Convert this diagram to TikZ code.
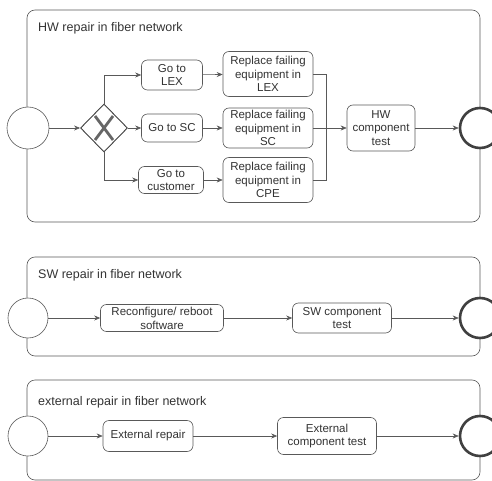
\documentclass[tikz,border=0pt]{standalone}
\usepackage{fontspec}
\setmainfont{Liberation Sans}
\usetikzlibrary{shapes.geometric,arrows.meta}

\tikzset{
  line/.style={draw=black!65, line width=0.6pt},
  pool/.style={line, rounded corners=8pt},
  task/.style={line, rounded corners=6pt, fill=white, align=center,
    font=\fontsize{11.5}{13.8}\selectfont, text=black!80, inner sep=1pt},
  startev/.style={line, circle, fill=white, minimum size=42pt, inner sep=0pt},
  endev/.style={draw=black!75, line width=2.6pt, circle, fill=white, minimum size=40pt, inner sep=0pt},
  xgate/.style={draw=black!75, line width=0.9pt, diamond, fill=white, minimum width=47pt, minimum height=48pt, inner sep=0pt},
  flow/.style={line, -{Stealth[length=6pt,width=5pt]}},
  pooltitle/.style={anchor=west, font=\fontsize{12.5}{14}\selectfont, text=black!80, inner sep=0pt},
}

\begin{document}
\begin{tikzpicture}[x=1pt, y=-1pt]
\useasboundingbox (0,0) rectangle (492,481);

% ---------- HW repair ----------
\draw[pool] (27,10) rectangle (480,222);
\node[pooltitle] (t1) at (38,28) {HW repair in fiber network};

\node[startev] (s1) at (28,128) {};
\node[xgate] (gw) at (104,128) {};
\draw[draw=black!60, line width=2.8pt] ([shift={(-9,-12)}]gw.center) -- ([shift={(9,12)}]gw.center)
      ([shift={(9,-12)}]gw.center) -- ([shift={(-9,12)}]gw.center);

\node[task, minimum width=61pt, minimum height=30pt] (lex) at (172,75) {Go to\\LEX};
\node[task, minimum width=61pt, minimum height=28pt] (sc) at (172,128) {Go to SC};
\node[task, minimum width=65pt, minimum height=27pt] (cust) at (171,180) {Go to\\customer};

\node[task, minimum width=90pt, minimum height=45pt] (rlex) at (268,74) {Replace failing\\equipment in\\LEX};
\node[task, minimum width=90pt, minimum height=40pt] (rsc) at (268,128) {Replace failing\\equipment in\\SC};
\node[task, minimum width=90pt, minimum height=45pt] (rcpe) at (268,180) {Replace failing\\equipment in\\CPE};

\node[task, minimum width=68pt, minimum height=46pt] (hw) at (381,128) {HW\\component\\test};
\node[endev] (e1) at (480,128) {};

\coordinate (j) at (326,128);

\draw[flow] (s1) -- (gw);
\draw[flow] (gw.north) |- (lex);
\draw[flow] (gw) -- (sc);
\draw[flow] (gw.south) |- (cust);
\draw[flow] (lex) -- (rlex);
\draw[flow] (sc) -- (rsc);
\draw[flow] (cust) -- (rcpe);
\draw[line] (rlex.east) -| (j);
\draw[line] (rcpe.east) -| (j);
\draw[flow] (rsc.east) -- (hw.west);
\draw[flow] (hw) -- (e1);

% ---------- SW repair ----------
\draw[pool] (27,257) rectangle (480,356);
\node[pooltitle] (t2) at (38,275) {SW repair in fiber network};

\node[startev, minimum size=40pt] (s2) at (28,318) {};
\node[task, minimum width=123pt, minimum height=27pt] (rec) at (162,318) {Reconfigure/ reboot\\software};
\node[task, minimum width=99pt, minimum height=30pt] (sw) at (342,318) {SW component\\test};
\node[endev] (e2) at (480,318) {};

\draw[flow] (s2) -- (rec);
\draw[flow] (rec) -- (sw);
\draw[flow] (sw) -- (e2);

% ---------- external repair ----------
\draw[pool] (27,380) rectangle (480,480);
\node[pooltitle] (t3) at (38,402) {external repair in fiber network};

\node[startev, minimum size=40pt] (s3) at (28,436) {};
\node[task, minimum width=90pt, minimum height=31pt] (ext) at (148,436) {External repair};
\node[task, minimum width=99pt, minimum height=37pt] (ect) at (327,436) {External\\component test};
\node[endev] (e3) at (480,436) {};

\draw[flow] (s3) -- (ext);
\draw[flow] (ext) -- (ect);
\draw[flow] (ect) -- (e3);
\end{tikzpicture}
\end{document}
